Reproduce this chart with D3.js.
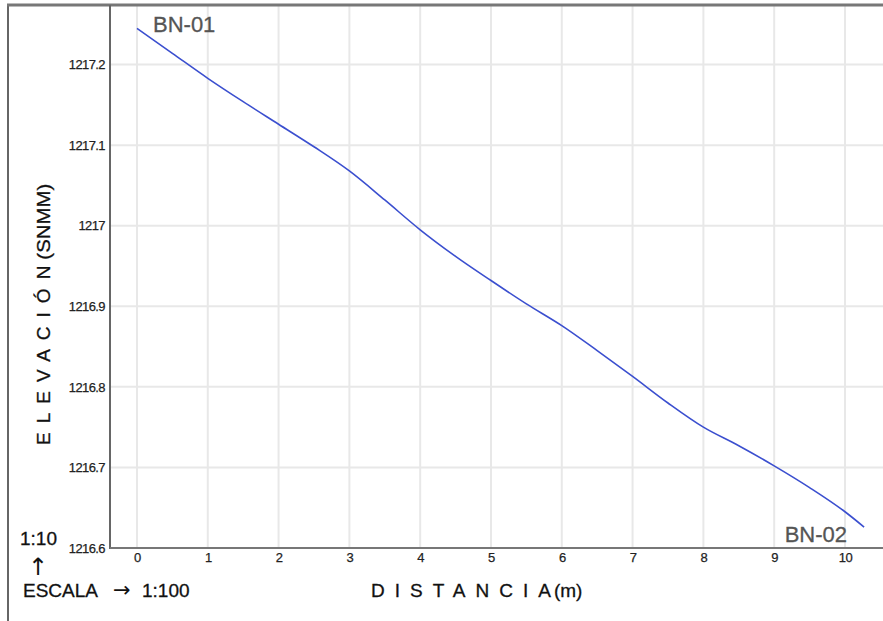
<!DOCTYPE html>
<html>
<head>
<meta charset="utf-8">
<script src="https://cdn.jsdelivr.net/npm/d3@7"></script>
<style>
  html, body { margin: 0; padding: 0; background: #fff; }
  svg { display: block; }
</style>
</head>
<body>
<svg id="chart" width="883" height="621"></svg>
<script>
// ---- data ----
const distances = [0, 0.5, 1, 1.5, 2, 2.5, 3, 3.5, 4, 4.5, 5, 5.5, 6, 6.5, 7, 7.5, 8, 8.5, 9, 9.5, 10, 10.27];
const elevations = [1217.245, 1217.214, 1217.183, 1217.154, 1217.126, 1217.098, 1217.068, 1217.032, 1216.995, 1216.962, 1216.932, 1216.903, 1216.876, 1216.845, 1216.813, 1216.780, 1216.750, 1216.727, 1216.702, 1216.675, 1216.645, 1216.626];
const xTicks = [0, 1, 2, 3, 4, 5, 6, 7, 8, 9, 10];
const yTicks = [1216.6, 1216.7, 1216.8, 1216.9, 1217, 1217.1, 1217.2];
const startLabel = "BN-01";
const endLabel = "BN-02";

// ---- layout ----
const svg = d3.select("#chart");
const plot = { left: 110, right: 883, top: 5, bottom: 548 };

const x = d3.scaleLinear().domain([-0.381, 10.537]).range([plot.left, plot.right]);
const y = d3.scaleLinear().domain([1216.6, 1217.274]).range([plot.bottom, plot.top]);

const tickFont = "'Liberation Sans', Arial, sans-serif";
const mainFont = "'Liberation Sans', Arial, Helvetica, sans-serif";

// grid
const grid = svg.append("g");
grid.selectAll("line.vg").data(xTicks).join("line")
  .attr("class", "vg")
  .attr("x1", d => x(d)).attr("x2", d => x(d))
  .attr("y1", plot.top).attr("y2", plot.bottom)
  .attr("stroke", "#e8e8e8").attr("stroke-width", 2);
grid.selectAll("line.hg").data(yTicks.slice(1)).join("line")
  .attr("class", "hg")
  .attr("x1", plot.left).attr("x2", plot.right)
  .attr("y1", d => y(d)).attr("y2", d => y(d))
  .attr("stroke", "#e8e8e8").attr("stroke-width", 2);

// axes via d3
const xAxis = d3.axisBottom(x).tickValues(xTicks).tickSize(0).tickPadding(5).tickFormat(d3.format("d"));
const yAxis = d3.axisLeft(y).tickValues(yTicks).tickSize(0).tickPadding(4).tickFormat(d => String(+d.toFixed(1)));

const gx = svg.append("g").attr("transform", `translate(0,${plot.bottom})`).call(xAxis);
gx.select(".domain").remove();
gx.selectAll("text").attr("font-family", tickFont).attr("font-size", 13)
  .attr("letter-spacing", -0.5).attr("fill", "#222")
  .attr("stroke", "#222").attr("stroke-width", 0.25);

const gy = svg.append("g").attr("transform", `translate(${plot.left - 1},0)`).call(yAxis);
gy.select(".domain").remove();
gy.selectAll("text").attr("font-family", tickFont).attr("font-size", 13)
  .attr("letter-spacing", -0.6).attr("fill", "#222")
  .attr("stroke", "#222").attr("stroke-width", 0.25);

// frame lines
svg.append("line").attr("x1", 8).attr("x2", 8).attr("y1", 4).attr("y2", 621)
  .attr("stroke", "#666").attr("stroke-width", 2);
svg.append("line").attr("x1", 7).attr("x2", 883).attr("y1", 5).attr("y2", 5)
  .attr("stroke", "#777").attr("stroke-width", 3);
svg.append("line").attr("x1", plot.left).attr("x2", plot.left).attr("y1", 5).attr("y2", plot.bottom + 1)
  .attr("stroke", "#666").attr("stroke-width", 2);
svg.append("line").attr("x1", plot.left).attr("x2", plot.right).attr("y1", plot.bottom).attr("y2", plot.bottom)
  .attr("stroke", "#777").attr("stroke-width", 2);

// profile line
const line = d3.line().x((d, i) => x(distances[i])).y(d => y(d)).curve(d3.curveMonotoneX);
svg.append("path").datum(elevations)
  .attr("d", line)
  .attr("fill", "none")
  .attr("stroke", "#3b4fcf")
  .attr("stroke-width", 1.6);

// point labels
svg.append("text").attr("x", 153).attr("y", 32)
  .attr("font-family", mainFont).attr("font-size", 22).attr("fill", "#555")
  .attr("stroke", "#555").attr("stroke-width", 0.3)
  .text(startLabel);
svg.append("text").attr("x", 847).attr("y", 542).attr("text-anchor", "end")
  .attr("font-family", mainFont).attr("font-size", 22).attr("fill", "#555")
  .attr("stroke", "#555").attr("stroke-width", 0.3)
  .text(endLabel);

// axis titles
const xt = svg.append("text").attr("x", 371).attr("y", 597)
  .attr("font-family", mainFont).attr("font-size", 19).attr("fill", "#111")
  .attr("stroke", "#111").attr("stroke-width", 0.3);
xt.append("tspan").attr("letter-spacing", 10).text("DISTANCI");
xt.append("tspan").text("A");
xt.append("tspan").attr("dx", 3).text("(m)");

const yt = svg.append("text")
  .attr("transform", "translate(50,445) rotate(-90)")
  .attr("font-family", mainFont).attr("font-size", 19).attr("fill", "#111")
  .attr("stroke", "#111").attr("stroke-width", 0.3);
yt.append("tspan").attr("letter-spacing", 9).text("ELEVACIÓ");
yt.append("tspan").text("N");
yt.append("tspan").attr("dx", 6).attr("textLength", 76).attr("lengthAdjust", "spacingAndGlyphs").text("(SNMM)");

// scale annotation
svg.append("text").attr("x", 20).attr("y", 545)
  .attr("font-family", mainFont).attr("font-size", 19).attr("fill", "#111")
  .attr("stroke", "#111").attr("stroke-width", 0.3).text("1:10");
svg.append("text").attr("x", 38).attr("y", 575).attr("text-anchor", "middle")
  .attr("font-family", "'DejaVu Sans', sans-serif").attr("font-size", 24).attr("fill", "#111").text("↑");
const esc = svg.append("text").attr("x", 23).attr("y", 597)
  .attr("font-family", mainFont).attr("font-size", 19).attr("fill", "#111")
  .attr("stroke", "#111").attr("stroke-width", 0.3);
esc.append("tspan").text("ESCALA");
esc.append("tspan").attr("x", 113).attr("font-family", "'DejaVu Sans', sans-serif").attr("font-size", 21).attr("stroke-width", 0).text("→");
esc.append("tspan").attr("x", 142).text("1:100");
</script>
</body>
</html>
